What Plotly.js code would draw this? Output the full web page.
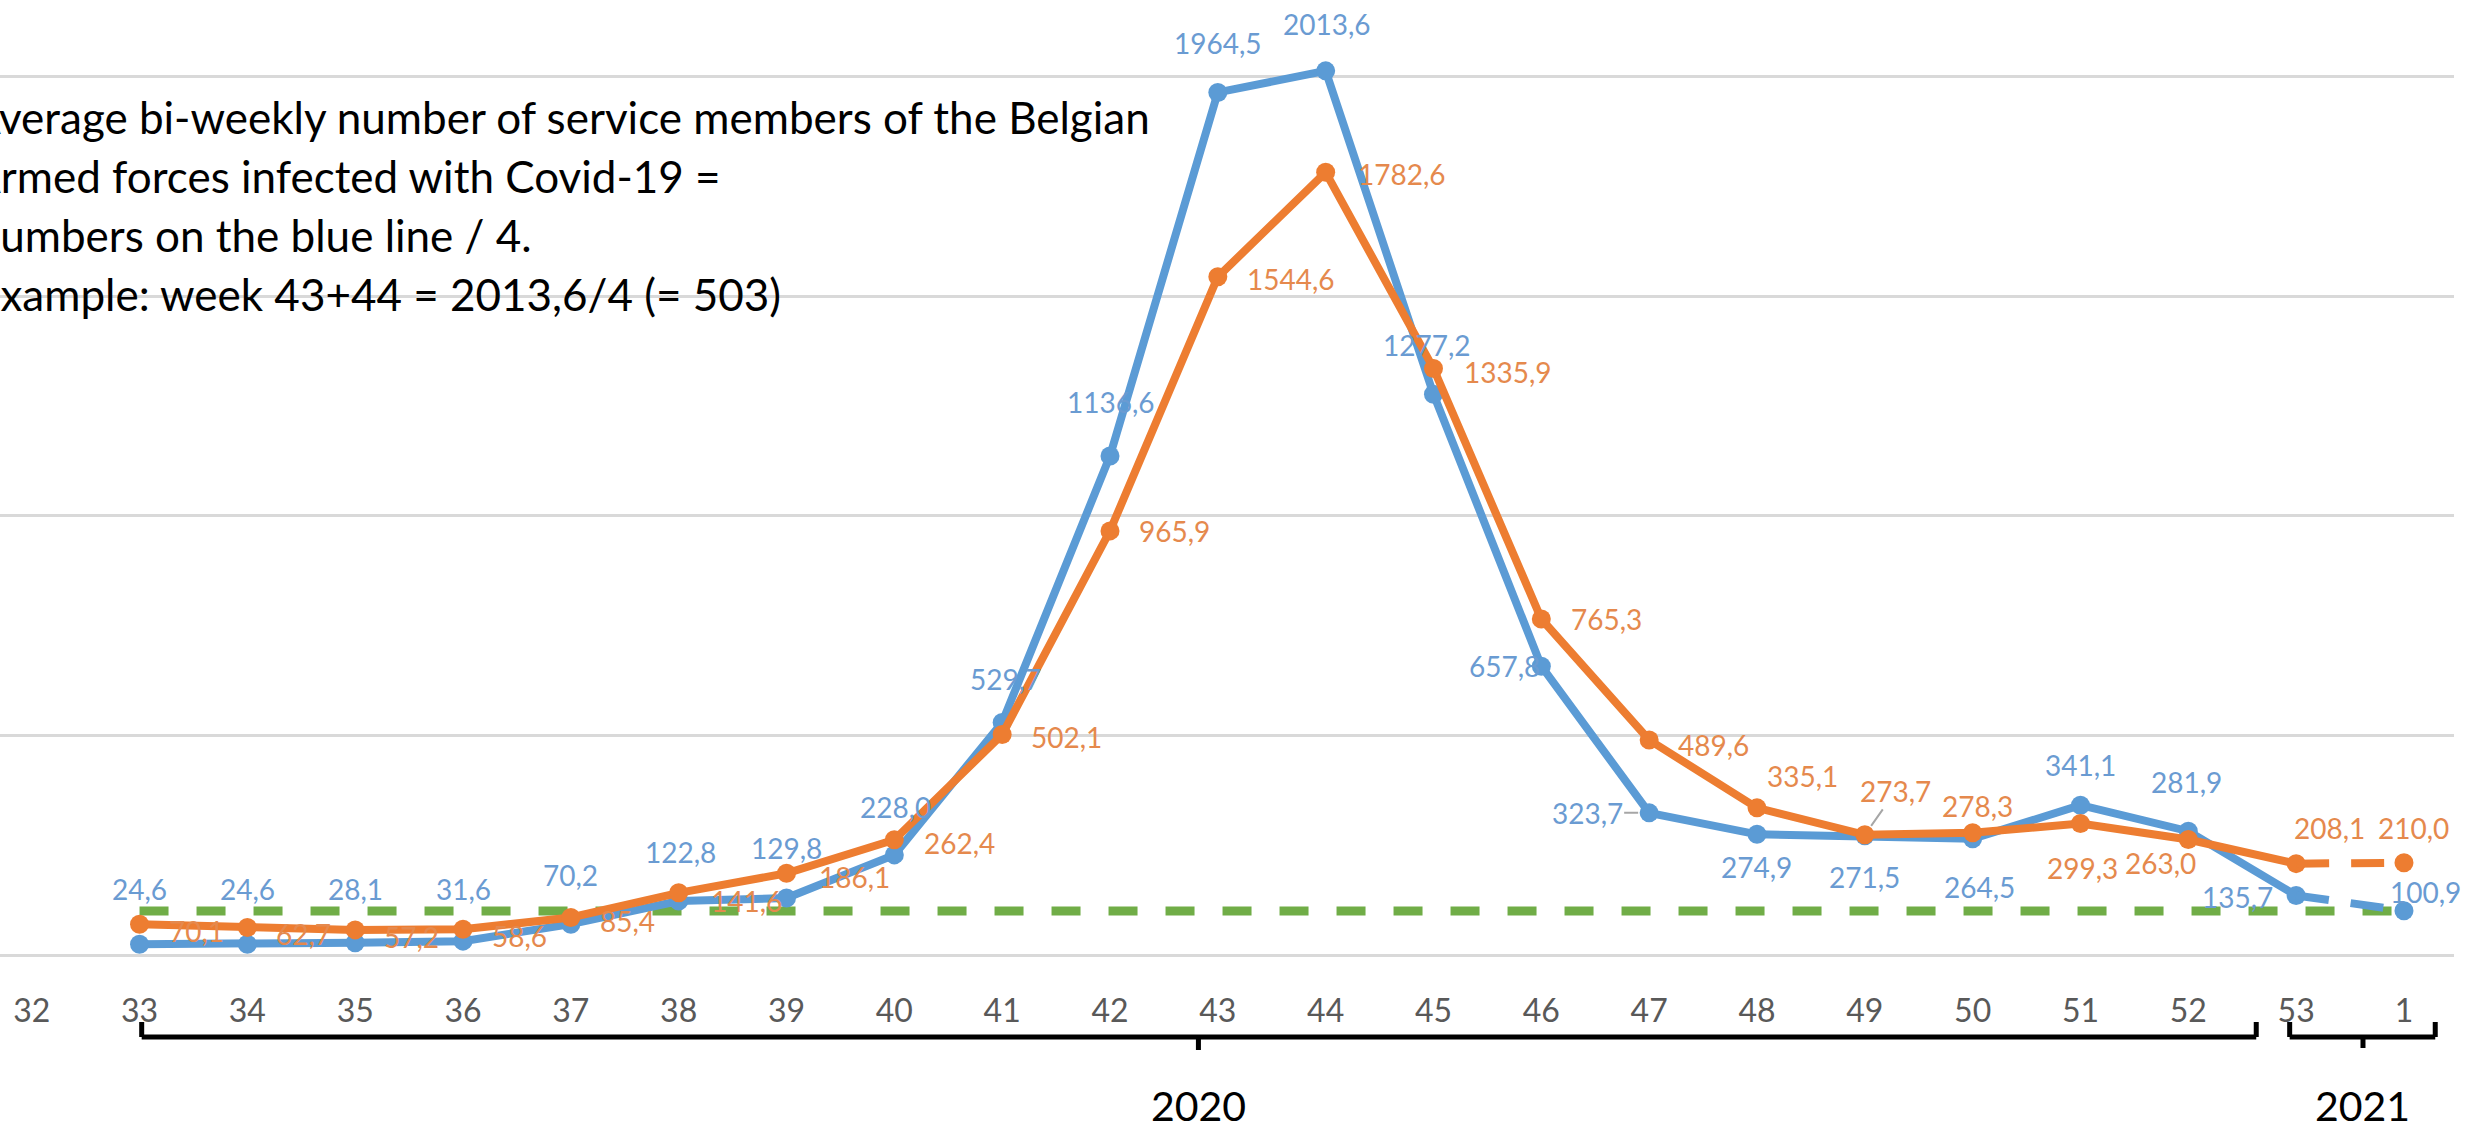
<!DOCTYPE html>
<html>
<head>
<meta charset="utf-8">
<script src="https://cdn.plot.ly/plotly-3.0.1.min.js"></script>
<style>
  html, body { margin: 0; padding: 0; background: #ffffff; }
  #chart { width: 2466px; height: 1125px; }
</style>
</head>
<body>
<div id="chart"></div>
<script>
// ---------------- DATA ----------------
const weeks = ["32","33","34","35","36","37","38","39","40","41","42","43","44","45","46","47","48","49","50","51","52","53","1"];
const dataWeeks = ["33","34","35","36","37","38","39","40","41","42","43","44","45","46","47","48","49","50","51","52","53","1"];
const blueValues = [24.6, 24.6, 28.1, 31.6, 70.2, 122.8, 129.8, 228.0, 529.7, 1136.6, 1964.5, 2013.6, 1277.2, 657.8, 323.7, 274.9, 271.5, 264.5, 341.1, 281.9, 135.7, 100.9];
const orangeValues = [70.1, 62.7, 57.2, 58.6, 85.4, 141.6, 186.1, 262.4, 502.1, 965.9, 1544.6, 1782.6, 1335.9, 765.3, 489.6, 335.1, 273.7, 278.3, 299.3, 263.0, 208.1, 210.0];
const greenValues = [100, 100, 100, 100, 100, 100, 100, 100, 100, 100, 100, 100, 100, 100, 100, 100, 100, 100, 100, 100, 100, 100];
const noteLines = [
  "Average bi-weekly number of service members of the Belgian",
  "Armed forces infected with Covid-19 =",
  "Numbers on the blue line / 4.",
  "Example: week 43+44 = 2013,6/4 (= 503)"
];
const yearLabels = ["2020", "2021"];

// ---------------- STYLE / PLACEMENT ----------------
const BLUE = "#5B9BD5", ORANGE = "#ED7D31", GREEN = "#70AD47";
const BLUE_TXT = "#6A9BD2", ORANGE_TXT = "#E5894D";
const FONT = "Lato, 'Open Sans', sans-serif";

// label offsets in px: [xanchor, dx, dy(down+), leader]
const blueLabelPos = [
  ["center",0,-55],["center",0,-55],["center",0,-54],["center",0,-52],["center",0,-49],
  ["center",2,-49],["center",0,-50],["center",1,-48],["center",3,-43],["center",1,-54],
  ["center",0,-49],["center",1,-47],["center",-6,-49],["center",-37,0],["center",-62,0,true],
  ["center",0,33],["center",0,41],["center",7,48],["center",0,-40],["center",-2,-49],
  ["center",-59,2],["center",22,-19]
];
const orangeLabelPos = [
  ["left",27,7],["left",27,7],["left",27,7],["left",27,7],["left",27,3],
  ["left",30,8],["left",30,4],["left",28,3],["left",27,2],["left",27,0],
  ["left",27,2],["left",30,2],["left",29,4],["left",28,0],["left",27,5],
  ["center",46,-32],["center",31,-44,true],["center",5,-27],["center",2,44],["center",-28,23],
  ["center",33,-36],["center",10,-35]
];

const fmt = v => v.toFixed(1).replace(".", ",");
const catIndex = w => weeks.indexOf(w);
const nSolid = dataWeeks.length - 1; // solid up to week 53, dashed 53 -> 1
const LW = 8, MS = 19;

const traces = [
  {
    x: dataWeeks, y: greenValues, type: "scatter", mode: "lines",
    line: { color: GREEN, width: 9, dash: "29px,28px" },
    hoverinfo: "skip", showlegend: false
  },
  {
    x: dataWeeks.slice(0, nSolid), y: blueValues.slice(0, nSolid), type: "scatter", mode: "lines+markers",
    line: { color: BLUE, width: LW }, marker: { color: BLUE, size: MS }, showlegend: false
  },
  {
    x: dataWeeks.slice(nSolid - 1), y: blueValues.slice(nSolid - 1), type: "scatter", mode: "lines",
    line: { color: BLUE, width: LW, dash: "33px,22px" }, showlegend: false
  },
  {
    x: dataWeeks.slice(nSolid), y: blueValues.slice(nSolid), type: "scatter", mode: "markers",
    marker: { color: BLUE, size: MS }, showlegend: false
  },
  {
    x: dataWeeks.slice(0, nSolid), y: orangeValues.slice(0, nSolid), type: "scatter", mode: "lines+markers",
    line: { color: ORANGE, width: LW }, marker: { color: ORANGE, size: MS }, showlegend: false
  },
  {
    x: dataWeeks.slice(nSolid - 1), y: orangeValues.slice(nSolid - 1), type: "scatter", mode: "lines",
    line: { color: ORANGE, width: LW, dash: "33px,22px" }, showlegend: false
  },
  {
    x: dataWeeks.slice(nSolid), y: orangeValues.slice(nSolid), type: "scatter", mode: "markers",
    marker: { color: ORANGE, size: MS }, showlegend: false
  }
];

const annotations = [];
function addLabels(values, pos, color) {
  values.forEach((v, i) => {
    const p = pos[i];
    const a = {
      x: catIndex(dataWeeks[i]), y: v, xref: "x", yref: "y",
      text: fmt(v), font: { family: FONT, size: 28, color: color }
    };
    if (p[3]) {
      Object.assign(a, { showarrow: true, ax: p[1], ay: p[2], arrowhead: 0, arrowwidth: 2,
        arrowcolor: "#A6A6A6", standoff: 11 });
    } else {
      Object.assign(a, { showarrow: false, xanchor: p[0], yanchor: "middle", xshift: p[1], yshift: -p[2] });
    }
    annotations.push(a);
  });
}
addLabels(blueValues, blueLabelPos, BLUE_TXT);
addLabels(orangeValues, orangeLabelPos, ORANGE_TXT);

// note text (first letters run off the left edge as in the source)
const PLOT_H = 955;
const noteCenters = [117, 176, 235, 294];
const noteShift = [-31, -31, -35, -27];
noteLines.forEach((t, i) => {
  annotations.push({
    xref: "paper", yref: "paper", x: 0, xshift: noteShift[i], xanchor: "left",
    y: (PLOT_H - noteCenters[i]) / PLOT_H, yanchor: "middle",
    text: t, showarrow: false, font: { family: FONT, size: 44, color: "#000000" }
  });
});

// year brackets (category-index positions)
const brackets = [
  { x0: 1.02, x1: 20.63, mid: 10.82, midBottom: 1050 },
  { x0: 20.94, x1: 22.29, mid: 21.62, midBottom: 1048 }
];
const py = px => (PLOT_H - px) / PLOT_H;
const shapes = [];
brackets.forEach((b, i) => {
  const line = { color: "#000000", width: 5 };
  const base = { type: "line", xref: "x", yref: "paper", line };
  shapes.push(Object.assign({}, base, { x0: b.x0, x1: b.x0, y0: py(1022), y1: py(1037) }));
  shapes.push(Object.assign({}, base, { x0: b.x1, x1: b.x1, y0: py(1022), y1: py(1037) }));
  shapes.push(Object.assign({}, base, { x0: b.x0, x1: b.x1, y0: py(1037), y1: py(1037) }));
  shapes.push(Object.assign({}, base, { x0: b.mid, x1: b.mid, y0: py(1037), y1: py(b.midBottom) }));
  annotations.push({
    xref: "x", yref: "paper", x: b.mid, y: py(1105), xanchor: "center", yanchor: "middle",
    text: yearLabels[i], showarrow: false, font: { family: FONT, size: 41, color: "#000000" }
  });
});

const layout = {
  width: 2466, height: 1125,
  margin: { l: 0, r: 12, t: 0, b: 170 },
  paper_bgcolor: "#ffffff", plot_bgcolor: "#ffffff",
  showlegend: false,
  xaxis: {
    type: "category", categoryorder: "array", categoryarray: weeks,
    tickvals: weeks, ticktext: weeks,
    range: [-0.294, 22.464], showgrid: false, zeroline: false, showline: false,
    ticks: "", ticklabelstandoff: 34,
    tickfont: { family: FONT, size: 32, color: "#595959" }, fixedrange: true
  },
  yaxis: {
    range: [0, 2175], dtick: 500, showgrid: true, gridcolor: "#D9D9D9", gridwidth: 3,
    zeroline: true, zerolinecolor: "#D9D9D9", zerolinewidth: 3,
    showticklabels: false, ticks: "", fixedrange: true
  },
  annotations: annotations,
  shapes: shapes
};

Plotly.newPlot("chart", traces, layout, { displayModeBar: false, staticPlot: true });
</script>
</body>
</html>
